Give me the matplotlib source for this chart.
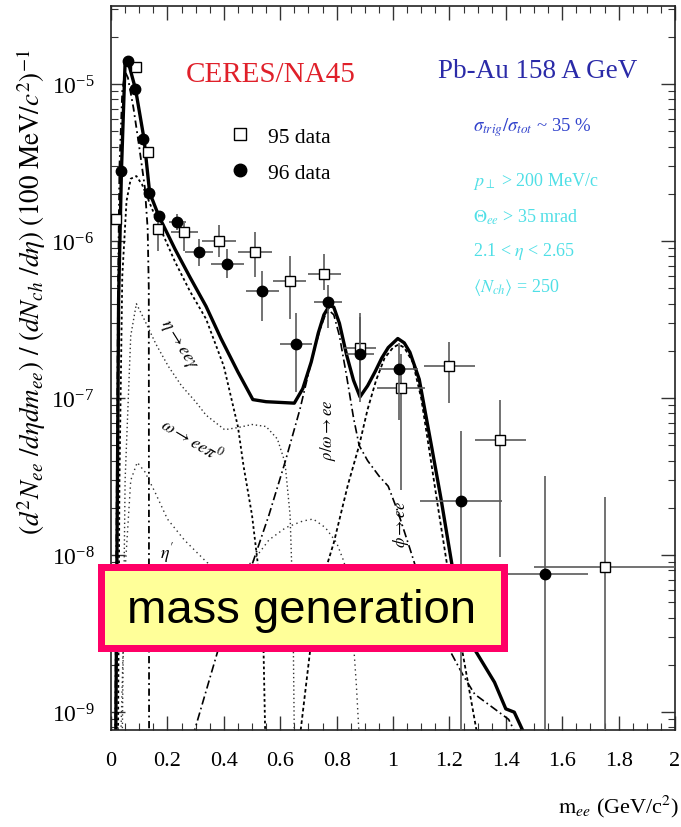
import numpy as np
import matplotlib
matplotlib.use("Agg")
import matplotlib.pyplot as plt
from matplotlib.lines import Line2D
from matplotlib.patches import Rectangle
from matplotlib.ticker import MultipleLocator, FuncFormatter, LogLocator, FixedLocator, NullFormatter

plt.rcParams["font.family"] = "serif"
plt.rcParams["font.serif"] = ["Liberation Serif", "DejaVu Serif"]
plt.rcParams["mathtext.fontset"] = "stix"

# ---- measured dielectron yields ----
m95 = [0.017, 0.087, 0.13, 0.167, 0.26, 0.383, 0.51, 0.633, 0.757, 0.883, 1.027, 1.20, 1.38, 1.75]
y95 = [1.38e-6, 1.28e-5, 3.7e-6, 1.2e-6, 1.15e-6, 1.0e-6, 8.5e-7, 5.6e-7, 6.2e-7, 2.1e-7, 1.17e-7, 1.6e-7, 5.4e-8, 8.4e-9]
y95_lo = [1.38e-6, 1.28e-5, 3.7e-6, 8.6e-7, 8.6e-7, 7.9e-7, 5.9e-7, 3.2e-7, 4.9e-7, 1.0e-7, 2.6e-8, 9.3e-8, 9.7e-9, 0.0]
y95_hi = [1.38e-6, 1.28e-5, 3.7e-6, 1.45e-6, 1.31e-6, 1.26e-6, 1.14e-6, 8.0e-7, 8.3e-7, 3.5e-7, 1.9e-7, 2.27e-7, 9.8e-8, 2.35e-8]
dm95 = [0, 0, 0, 0, 0.047, 0.06, 0.06, 0.06, 0.06, 0.057, 0.085, 0.09, 0.09, 0.25]

m96 = [0.037, 0.06, 0.085, 0.113, 0.135, 0.17, 0.235, 0.313, 0.413, 0.537, 0.657, 0.77, 0.883, 1.02, 1.24, 1.54]
y96 = [2.79e-6, 1.4e-5, 9.3e-6, 4.5e-6, 2.04e-6, 1.44e-6, 1.32e-6, 8.5e-7, 7.2e-7, 4.8e-7, 2.2e-7, 4.1e-7, 1.9e-7, 1.53e-7, 2.2e-8, 7.6e-9]
y96_lo = [2.79e-6, 1.4e-5, 9.3e-6, 4.5e-6, 2.04e-6, 1.44e-6, 1.18e-6, 7.0e-7, 5.8e-7, 3.1e-7, 1.1e-7, 2.8e-7, 9.5e-8, 7.3e-8, 0.0, 0.0]
y96_hi = [2.79e-6, 1.4e-5, 9.3e-6, 4.5e-6, 2.04e-6, 1.44e-6, 1.48e-6, 1.03e-6, 8.9e-7, 6.5e-7, 3.5e-7, 5.3e-7, 3.3e-7, 2.26e-7, 6.2e-8, 3.2e-8]
dm96 = [0, 0, 0, 0, 0, 0, 0.03, 0.05, 0.06, 0.06, 0.057, 0.05, 0.05, 0.07, 0.145, 0.15]

# ---- hadronic decay cocktail ----
total_m = [0.017, 0.027, 0.037, 0.05, 0.058, 0.087, 0.117, 0.137, 0.17, 0.227, 0.28, 0.337, 0.39, 0.45,
           0.503, 0.55, 0.60, 0.65, 0.68, 0.71, 0.735, 0.755, 0.775, 0.79, 0.81, 0.835, 0.86, 0.883,
           0.91, 0.937, 0.96, 0.983, 1.017, 1.04, 1.06, 1.093, 1.137, 1.17, 1.21, 1.25, 1.29, 1.36,
           1.40, 1.43, 1.47]
total_y = [7e-10, 4.3e-7, 2.8e-6, 1.38e-5, 1.45e-5, 9.3e-6, 4.5e-6, 2.04e-6, 1.44e-6, 8.9e-7, 5.9e-7, 3.85e-7, 2.4e-7, 1.47e-7,
           9.8e-8, 9.5e-8, 9.4e-8, 9.3e-8, 1.15e-7, 1.7e-7, 2.6e-7, 3.4e-7, 3.9e-7, 3.8e-7, 3.0e-7, 1.9e-7, 1.3e-7, 1.02e-7,
           1.2e-7, 1.48e-7, 1.8e-7, 2.1e-7, 2.4e-7, 2.25e-7, 1.96e-7, 1.32e-7, 4.9e-8, 2.3e-8, 8.5e-9, 4.5e-9, 2.5e-9, 1.55e-9,
           1.05e-9, 1.0e-9, 7e-10]

pi0_m = [0.015, 0.02, 0.025, 0.03, 0.04, 0.05, 0.06, 0.08, 0.1, 0.12, 0.13, 0.134, 0.135]
pi0_y = [7e-10, 2e-8, 5e-7, 3e-6, 9e-6, 1.2e-5, 1.1e-5, 7e-6, 4e-6, 2.2e-6, 1.2e-6, 5e-7, 7e-10]

eta_m = [0.025, 0.03, 0.04, 0.055, 0.07, 0.09, 0.11, 0.14, 0.18, 0.227, 0.28, 0.337, 0.4, 0.45, 0.47, 0.5, 0.52, 0.54, 0.547]
eta_y = [7e-10, 3e-8, 6e-7, 1.8e-6, 2.5e-6, 2.6e-6, 2.3e-6, 1.7e-6, 1.15e-6, 7.4e-7, 4.8e-7, 3.2e-7, 1.6e-7, 6.6e-8, 3.7e-8, 1.8e-8, 9e-9, 3e-9, 7e-10]

omegad_m = [0.04, 0.05, 0.07, 0.09, 0.117, 0.16, 0.203, 0.25, 0.3, 0.337, 0.403, 0.45, 0.5, 0.55, 0.59, 0.617, 0.635, 0.645, 0.65]
omegad_y = [7e-10, 3e-8, 2.5e-7, 4e-7, 3.2e-7, 2.2e-7, 1.6e-7, 1.2e-7, 9.5e-8, 7.8e-8, 6.3e-8, 6.5e-8, 6.8e-8, 6.6e-8, 5.5e-8, 3.9e-8, 1.8e-8, 5e-9, 7e-10]

etap_m = [0.035, 0.05, 0.07, 0.093, 0.12, 0.157, 0.2, 0.26, 0.34, 0.42, 0.5, 0.56, 0.62, 0.68, 0.717, 0.76, 0.8, 0.827, 0.85, 0.87, 0.88]
etap_y = [7e-10, 8e-9, 3e-8, 3.9e-8, 3.4e-8, 2.5e-8, 1.7e-8, 1.25e-8, 9e-9, 7.5e-9, 9e-9, 1.25e-8, 1.5e-8, 1.65e-8, 1.7e-8, 1.5e-8, 1.2e-8, 9e-9, 5e-9, 1.5e-9, 7e-10]

rhoomega_m = [0.29, 0.38, 0.45, 0.503, 0.56, 0.617, 0.67, 0.71, 0.74, 0.76, 0.775, 0.79, 0.81, 0.835, 0.86, 0.88,
              0.91, 0.95, 0.983, 1.017, 1.06, 1.1, 1.15, 1.2, 1.25, 1.29, 1.36, 1.41, 1.44]
rhoomega_y = [7e-10, 2.5e-9, 5.5e-9, 9e-9, 1.8e-8, 3.9e-8, 8.5e-8, 1.7e-7, 2.7e-7, 3.4e-7, 3.6e-7, 3.4e-7, 2.5e-7, 1.4e-7, 7.5e-8, 5e-8,
              4e-8, 3.2e-8, 2.75e-8, 1.9e-8, 1.1e-8, 6.5e-9, 3.8e-9, 2.5e-9, 1.7e-9, 1.3e-9, 1.05e-9, 9e-10, 7e-10]

phi_m = [0.67, 0.72, 0.76, 0.79, 0.84, 0.88, 0.91, 0.94, 0.97, 1.0, 1.02, 1.04, 1.07, 1.1, 1.13, 1.16, 1.2, 1.24, 1.27, 1.3]
phi_y = [7e-10, 4e-9, 8e-9, 1.2e-8, 2.8e-8, 5e-8, 8.5e-8, 1.3e-7, 1.8e-7, 2.1e-7, 2.2e-7, 2.1e-7, 1.7e-7, 1.0e-7, 4.5e-8, 2e-8, 7e-9, 2.8e-9, 1.4e-9, 7e-10]

xticks = [0, 0.2, 0.4, 0.6, 0.8, 1.0, 1.2, 1.4, 1.6, 1.8, 2.0]
yticks = [1e-9, 1e-8, 1e-7, 1e-6, 1e-5]

W, H = 681, 828
fig = plt.figure(figsize=(W / 100, H / 100), dpi=100)
ax = fig.add_axes([111 / W, 1 - 731 / H, (675 - 111) / W, (731 - 7) / H])
ax.set_yscale("log")
ax.set_xlim(0, 2)
ax.set_ylim(7.7e-10, 3.15e-5)

# cocktail curves
ax.plot(pi0_m, pi0_y, color="black", lw=1.3, ls=(0, (4, 2, 1, 2)))
ax.plot(eta_m, eta_y, color="black", lw=1.3, ls=(0, (1.5, 1.5)))
ax.plot(omegad_m, omegad_y, color="#333333", lw=1.0, ls=(0, (1, 2)))
ax.plot(etap_m, etap_y, color="#333333", lw=1.0, ls=(0, (1, 2.5)))
ax.plot(rhoomega_m, rhoomega_y, color="black", lw=1.2, ls=(0, (5, 2, 1, 2)))
ax.plot(phi_m, phi_y, color="black", lw=1.3, ls=(0, (2, 1.5)))
ax.plot(total_m, total_y, color="black", lw=2.4, solid_joinstyle="round")

# data
y95a = np.array(y95); y96a = np.array(y96)
ax.errorbar(m95, y95, xerr=dm95, yerr=[y95a - np.array(y95_lo), np.array(y95_hi) - y95a],
            fmt="s", ms=7, mfc="white", mec="black", mew=1.0, ecolor="#5a5a5a", elinewidth=1.2,
            capsize=0, zorder=5)
ax.errorbar(m96, y96, xerr=dm96, yerr=[y96a - np.array(y96_lo), np.array(y96_hi) - y96a],
            fmt="o", ms=7.5, mfc="black", mec="black", ecolor="#5a5a5a", elinewidth=1.2,
            capsize=0, zorder=6)

# axes styling
ax.xaxis.set_major_locator(FixedLocator(xticks))
ax.xaxis.set_minor_locator(MultipleLocator(0.05))
ax.xaxis.set_major_formatter(FuncFormatter(lambda v, p: f"{v:g}"))
ax.yaxis.set_major_locator(FixedLocator(yticks))
ax.yaxis.set_minor_locator(LogLocator(base=10, subs=np.arange(2, 10), numticks=20))
ax.yaxis.set_minor_formatter(NullFormatter())
ax.tick_params(which="both", direction="in", top=True, right=True, color="#333333")
ax.tick_params(which="major", length=10, width=1.0)
ax.tick_params(which="minor", length=5, width=0.8)
ax.tick_params(axis="x", which="major", labelsize=16, pad=15)
ax.tick_params(axis="y", which="major", labelsize=17, pad=12)
for s in ax.spines.values():
    s.set_linewidth(1.2)
    s.set_color("#222222")

# curve labels
ax.text(0.237, 2.2e-7, r"$\eta \rightarrow ee\gamma$", rotation=-58, ha="center", va="center", fontsize=13)
ax.text(0.287, 5.5e-8, r"$\omega \rightarrow ee\pi^0$", rotation=-31, ha="center", va="center", fontsize=13)
ax.text(0.2, 1.05e-8, r"$\eta'$", ha="center", va="center", fontsize=13)
ax.text(0.77, 6.3e-8, r"$\rho/\omega \rightarrow ee$", rotation=90, ha="center", va="center", fontsize=12)
ax.text(1.03, 1.6e-8, r"$\phi \rightarrow ee$", rotation=90, ha="center", va="center", fontsize=12)

# legend
handles = [Line2D([], [], marker="s", ls="none", ms=8, mfc="white", mec="black"),
           Line2D([], [], marker="o", ls="none", ms=9, mfc="black", mec="black")]
ax.legend(handles, ["95 data", "96 data"], loc="upper left", bbox_to_anchor=(0.175, 0.86),
          frameon=False, fontsize=15.5, handlelength=1.0, handletextpad=0.8, labelspacing=0.75)

# header texts (figure pixel positions)
def ftext(x, y, s, **kw):
    fig.text(x / W, 1 - y / H, s, **kw)

ftext(271, 75, "CERES/NA45", color="#e0202a", fontsize=21, ha="center", va="center")
ftext(538, 72, "Pb-Au 158 A GeV", color="#2a2aa8", fontsize=19.5, ha="center", va="center")
ftext(473, 128, r"$\sigma_{trig}/\sigma_{tot}$ ~ 35 %", color="#3344cc", fontsize=13.5, ha="left", va="center")
cyan = "#4fdfe6"
ftext(473, 182, r"$p_{\perp}$ > 200 MeV/c", color=cyan, fontsize=13, ha="left", va="center")
ftext(473, 217, r"$\Theta_{ee}$ > 35 mrad", color=cyan, fontsize=13, ha="left", va="center")
ftext(473, 252, r"2.1 < $\eta$ < 2.65", color=cyan, fontsize=13, ha="left", va="center")
ftext(473, 287, r"$\langle N_{ch}\rangle$ = 250", color=cyan, fontsize=13, ha="left", va="center")

# axis titles
ftext(31, 292, r"$(d^2N_{ee}\ /d\eta dm_{ee})\ /\ (dN_{ch}\ /d\eta)\ (100\ \mathrm{MeV}/c^2)^{-1}$",
      rotation=90, fontsize=19.5, ha="center", va="center")
ftext(679, 807, r"$\mathrm{m}_{ee}$ (GeV/c$^2$)", fontsize=16, ha="right", va="center")

# highlighted caption box
lw_px = 7
box = Rectangle(((97 + lw_px / 2) / W, 1 - (652 - lw_px / 2) / H),
                (507 - 97 - lw_px) / W, (652 - 564 - lw_px) / H,
                transform=fig.transFigure, facecolor="#ffff99", edgecolor="#ff0066",
                linewidth=lw_px * 72 / 100, zorder=20)
fig.add_artist(box)
ftext(302, 611, "mass generation", fontsize=34, family="Liberation Sans", ha="center", va="center", zorder=21)

fig.savefig("out.png", dpi=100)
